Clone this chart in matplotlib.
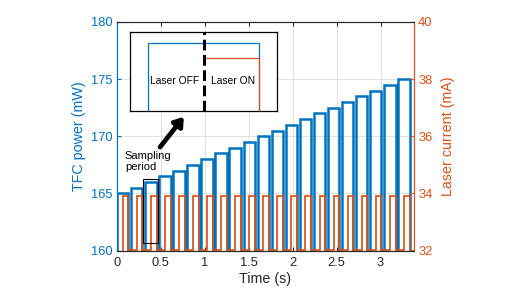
import matplotlib
matplotlib.use("Agg")
import matplotlib.pyplot as plt
from matplotlib.patches import Rectangle

# pulse start times (s) and TFC power level of each pulse (mW)
pulse_start = [0.00, 0.16, 0.32, 0.48, 0.64, 0.80, 0.96, 1.12, 1.28, 1.44, 1.60,
               1.76, 1.92, 2.08, 2.24, 2.40, 2.56, 2.72, 2.88, 3.04, 3.20]
tfc_power = [165.0, 165.5, 166.0, 166.5, 167.0, 167.5, 168.0, 168.5, 169.0, 169.5, 170.0,
             170.5, 171.0, 171.5, 172.0, 172.5, 173.0, 173.5, 174.0, 174.5, 175.0]
laser_on_level = [33.9] * len(pulse_start)
power_base = 160.0
current_base = 32.0
pulse_width = 0.13      # power window per sample
laser_delay = 0.065     # laser switched on half way through

# inset schematic (normalised units)
inset_blue_x = [0.124, 0.124, 0.88, 0.88]
inset_blue_y = [0.0, 0.86, 0.86, 0.0]
inset_red_x = [0.505, 0.88, 0.88]
inset_red_y = [0.676, 0.676, 0.0]
inset_split = 0.505

blue = "#0072BD"
red = "#D95319"
dark = "#262626"

plt.rcParams["font.family"] = ["Liberation Sans", "DejaVu Sans"]

# build step traces
tb, pb = [], []
tr, cr = [], []
for s, p, c in zip(pulse_start, tfc_power, laser_on_level):
    tb += [s, s, s + pulse_width, s + pulse_width]
    pb += [power_base, p, p, power_base]
    tr += [s + laser_delay, s + laser_delay, s + pulse_width, s + pulse_width]
    cr += [current_base, c, c, current_base]

fig = plt.figure(figsize=(5.2, 2.92), dpi=100)
ax = fig.add_axes([117 / 520, 1 - 250.5 / 292, 297 / 520, 228.5 / 292])
ax2 = ax.twinx()

ax.plot(tb, pb, color=blue, lw=1.8, solid_joinstyle="miter")
ax2.plot(tr, cr, color=red, lw=1.25, solid_joinstyle="miter")

ax.set_xlim(0, 3.38)
ax.set_ylim(160, 180)
ax2.set_ylim(32, 40)
ax.set_xticks([0, 0.5, 1, 1.5, 2, 2.5, 3])
ax.set_xticklabels(["0", "0.5", "1", "1.5", "2", "2.5", "3"])
ax.set_yticks([160, 165, 170, 175, 180])
ax2.set_yticks([32, 34, 36, 38, 40])
ax.grid(True, color="#dcdcdc", lw=0.6)
ax.set_axisbelow(True)

ax.tick_params(axis="x", direction="in", top=True, labelsize=9.3, colors=dark, pad=5, length=3)
ax.tick_params(axis="y", direction="in", labelsize=9.3, colors=blue, pad=3, length=3)
ax2.tick_params(axis="y", direction="in", labelsize=9.3, colors=red, pad=3, length=3)

for a in (ax, ax2):
    a.spines["top"].set_color(dark)
    a.spines["bottom"].set_color(dark)
    a.spines["left"].set_color(blue)
    a.spines["right"].set_color(red)
    for sp in a.spines.values():
        sp.set_linewidth(0.8)

ax.set_xlabel("Time (s)", fontsize=10.3, color=dark, labelpad=2)
ax.set_ylabel("TFC power (mW)", fontsize=10.3, color=blue, labelpad=4)
ax2.set_ylabel("Laser current (mA)", fontsize=10.3, color=red, labelpad=6)

# sampling period box, label and arrow
ax2.add_patch(Rectangle((0.30, 160.7), 0.17, 5.6, transform=ax.transData,
                        fill=False, ec="black", lw=0.8, zorder=5))
ax2.text(0.09, 168.7, "Sampling\nperiod", transform=ax.transData, fontsize=8,
         ha="left", va="top", linespacing=1.15, color="black")
ax2.annotate("", xy=(0.76, 171.7), xytext=(0.49, 169.05),
             xycoords=ax.transData, textcoords=ax.transData,
             arrowprops=dict(arrowstyle="-|>,head_length=0.5,head_width=0.35",
                             color="black", lw=3.4, shrinkA=0, shrinkB=0))

# inset schematic
ins = fig.add_axes([130 / 520, 1 - 110.7 / 292, 147 / 520, 78.4 / 292])
ins.plot(inset_blue_x, inset_blue_y, color=blue, lw=0.9)
ins.plot(inset_red_x, inset_red_y, color=red, lw=0.9)
ins.plot([inset_split, inset_split], [0, 1], color="black", lw=2.2, ls=(0, (3.5, 1.5)))
ins.text(0.305, 0.38, "Laser OFF", fontsize=7.4, ha="center", va="center")
ins.text(0.70, 0.38, "Laser ON", fontsize=7.4, ha="center", va="center")
ins.set_xlim(0, 1)
ins.set_ylim(0, 1)
ins.set_xticks([])
ins.set_yticks([])
for sp in ins.spines.values():
    sp.set_color("black")
    sp.set_linewidth(0.9)

fig.savefig("out.png", dpi=100)
